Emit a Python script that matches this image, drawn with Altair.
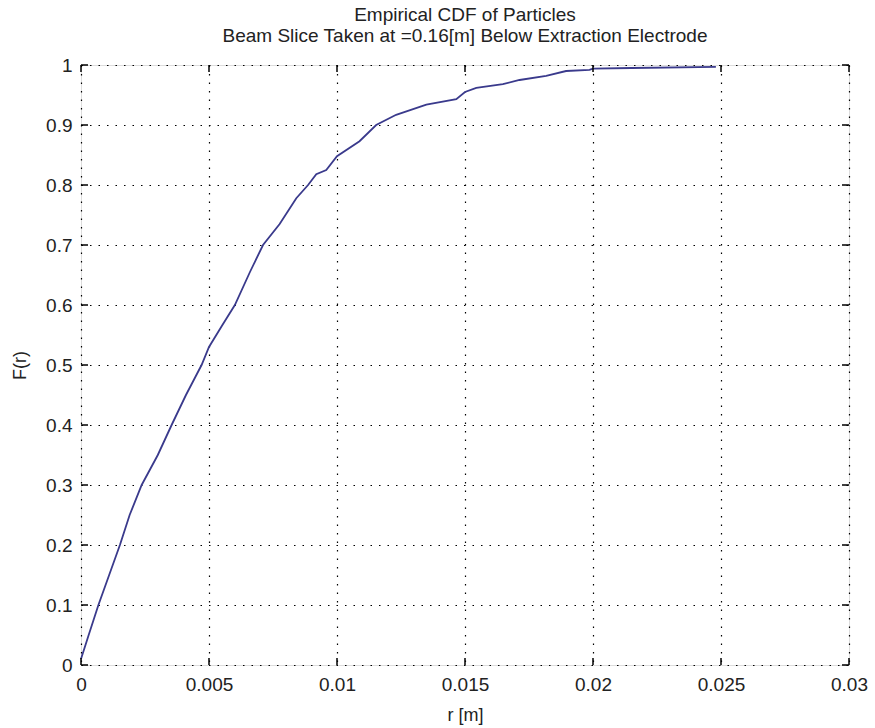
import altair as alt
import pandas as pd

r_vals = [0, 0.0003, 0.00068, 0.0011, 0.00152, 0.0019, 0.00237, 0.0030, 0.00354, 0.0041,
          0.00471, 0.0050, 0.0055, 0.00601, 0.0066, 0.00711, 0.00776, 0.00841, 0.00887,
          0.00919, 0.00958, 0.0100, 0.01088, 0.01153, 0.01231, 0.01349, 0.01466, 0.0150,
          0.01544, 0.01648, 0.01713, 0.01817, 0.01895, 0.01986, 0.0200, 0.0215, 0.0248]
F_vals = [0.01, 0.05, 0.10, 0.15, 0.20, 0.25, 0.30, 0.35, 0.40, 0.45,
          0.50, 0.53, 0.565, 0.60, 0.655, 0.70, 0.735, 0.778, 0.80,
          0.818, 0.825, 0.848, 0.873, 0.90, 0.917, 0.934, 0.943, 0.955,
          0.962, 0.968, 0.975, 0.982, 0.99, 0.992, 0.994, 0.995, 0.997]

x_ticks = [0, 0.005, 0.01, 0.015, 0.02, 0.025, 0.03]
y_ticks = [0, 0.1, 0.2, 0.3, 0.4, 0.5, 0.6, 0.7, 0.8, 0.9, 1.0]

title_lines = ["Empirical CDF of Particles",
               "Beam Slice Taken at =0.16[m] Below Extraction Electrode"]

W, H = 768, 600
FONT = "Liberation Sans, Arial"

df = pd.DataFrame({"r": r_vals, "F": F_vals})
xt = pd.DataFrame({"v": x_ticks})
yt = pd.DataFrame({"v": y_ticks})

xscale = alt.Scale(domain=[0, 0.03], nice=False, zero=False)
yscale = alt.Scale(domain=[0, 1], nice=False, zero=False)

line = alt.Chart(df).mark_line(color="#3a3a8c", strokeWidth=1.8).encode(
    x=alt.X("r:Q", scale=xscale,
            axis=alt.Axis(values=x_ticks, title="r [m]", format="~g",
                          grid=True, gridDash=[1.5, 7], gridColor="black",
                          gridWidth=1.2, gridOpacity=1, labelFlush=False,
                          ticks=False, domain=False, labelPadding=10,
                          labelFontSize=19, titleFontSize=18, titlePadding=12,
                          labelFont=FONT, titleFont=FONT, labelColor="#222",
                          titleColor="#222", titleFontWeight="normal")),
    y=alt.Y("F:Q", scale=yscale,
            axis=alt.Axis(values=y_ticks, title="F(r)", format="~g",
                          grid=True, gridDash=[1.5, 7], gridColor="black",
                          gridWidth=1.2, gridOpacity=1, labelFlush=False,
                          ticks=False, domain=False, labelPadding=9,
                          labelFontSize=19, titleFontSize=18, titlePadding=16,
                          labelFont=FONT, titleFont=FONT, labelColor="#222",
                          titleColor="#222", titleFontWeight="normal")),
)

tick_style = dict(color="black", strokeWidth=1.5)
bx = alt.Chart(xt).mark_rule(**tick_style).encode(
    x=alt.X("v:Q", scale=xscale), y=alt.value(H), y2=alt.value(H - 7))
tx = alt.Chart(xt).mark_rule(**tick_style).encode(
    x=alt.X("v:Q", scale=xscale), y=alt.value(0), y2=alt.value(7))
ly = alt.Chart(yt).mark_rule(**tick_style).encode(
    y=alt.Y("v:Q", scale=yscale), x=alt.value(0), x2=alt.value(7))
ry = alt.Chart(yt).mark_rule(**tick_style).encode(
    y=alt.Y("v:Q", scale=yscale), x=alt.value(W), x2=alt.value(W - 7))

chart = alt.layer(line, bx, tx, ly, ry).properties(
    width=W, height=H,
    title=alt.TitleParams(text=title_lines, fontSize=19, font=FONT,
                          fontWeight="normal", color="#222", anchor="middle",
                          lineHeight=21, offset=10),
    autosize=alt.AutoSizeParams(type="none"),
    padding={"left": 81, "top": 65, "right": 26, "bottom": 63},
).configure_view(stroke="black", strokeWidth=1.5).configure(background="white")

chart.save("out.html", embed_options={"renderer": "svg", "actions": False})
